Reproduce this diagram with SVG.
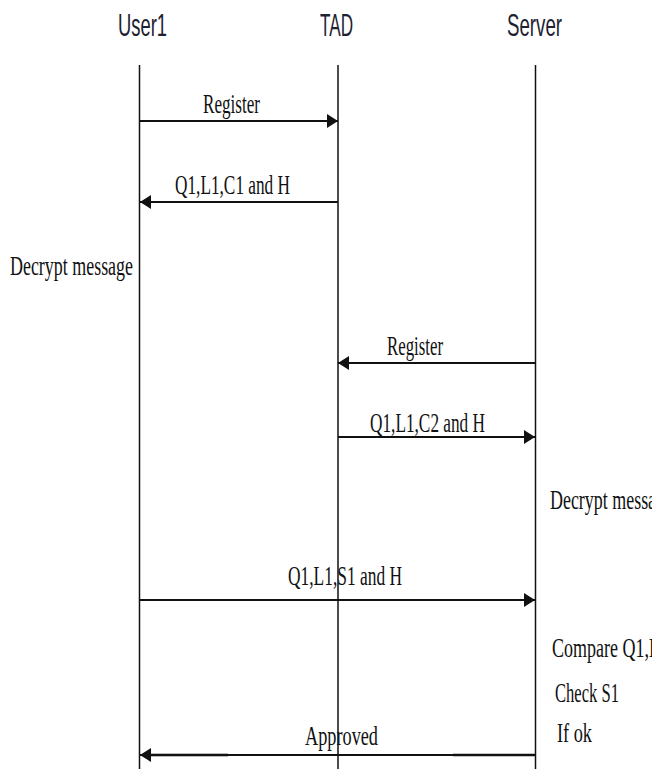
<svg xmlns="http://www.w3.org/2000/svg" width="652" height="769" viewBox="0 0 652 769">
<style>
.hdr{font-family:"Liberation Sans","Open Sans",sans-serif;font-size:32px;fill:#1e2230}
.lbl{font-family:"Liberation Serif","Times New Roman",serif;font-size:28px;fill:#111}
.life{stroke:#111;stroke-width:1.5;fill:none}
.msg{stroke:#111;stroke-width:2;fill:none}
</style>
<defs>
<marker id="ah" viewBox="0 0 11 14" refX="11" refY="7" markerWidth="11" markerHeight="14" markerUnits="userSpaceOnUse" orient="auto">
<path d="M0,0 L11,7 L0,14 Z" fill="#111"/>
</marker>
</defs>
<rect width="652" height="769" fill="#fff"/>
<g id="user1">
<text class="hdr" x="118" y="36" textLength="49" lengthAdjust="spacingAndGlyphs">User1</text>
<line class="life" x1="139.5" y1="65" x2="139.5" y2="769"/>
<text class="lbl" x="10" y="275" textLength="123" lengthAdjust="spacingAndGlyphs">Decrypt message</text>
</g>
<g id="tad">
<text class="hdr" x="320" y="36" textLength="33" lengthAdjust="spacingAndGlyphs">TAD</text>
<line class="life" x1="338" y1="65" x2="338" y2="769"/>
</g>
<g id="server">
<text class="hdr" x="507" y="36" textLength="55" lengthAdjust="spacingAndGlyphs">Server</text>
<line class="life" x1="535.5" y1="65" x2="535.5" y2="769"/>
<text class="lbl" x="550" y="509" textLength="123" lengthAdjust="spacingAndGlyphs">Decrypt message</text>
<text class="lbl" x="552" y="657" textLength="117" lengthAdjust="spacingAndGlyphs">Compare Q1,L1</text>
<text class="lbl" x="555" y="702" textLength="64" lengthAdjust="spacingAndGlyphs">Check S1</text>
<text class="lbl" x="557" y="742" textLength="35" lengthAdjust="spacingAndGlyphs">If ok</text>
</g>
<g id="connectors">
<line class="msg" x1="140" y1="121" x2="338" y2="121" marker-end="url(#ah)"/>
<text class="lbl" x="203" y="113" textLength="57" lengthAdjust="spacingAndGlyphs">Register</text>
<line class="msg" x1="338" y1="202" x2="140" y2="202" marker-end="url(#ah)"/>
<text class="lbl" x="175" y="194" textLength="115" lengthAdjust="spacingAndGlyphs">Q1,L1,C1 and H</text>
<line class="msg" x1="535" y1="363" x2="338" y2="363" marker-end="url(#ah)"/>
<text class="lbl" x="387" y="355" textLength="56" lengthAdjust="spacingAndGlyphs">Register</text>
<line class="msg" x1="338" y1="437" x2="535" y2="437" marker-end="url(#ah)"/>
<text class="lbl" x="370" y="432" textLength="115" lengthAdjust="spacingAndGlyphs">Q1,L1,C2 and H</text>
<line class="msg" x1="140" y1="600" x2="535" y2="600" marker-end="url(#ah)"/>
<text class="lbl" x="288" y="585" textLength="114" lengthAdjust="spacingAndGlyphs">Q1,L1,S1 and H</text>
<line x1="453" y1="755" x2="535" y2="755" stroke="#888" stroke-width="3"/>
<line x1="145" y1="755" x2="228" y2="755" stroke="#777" stroke-width="3"/>
<line class="msg" x1="535" y1="755" x2="140" y2="755" marker-end="url(#ah)"/>
<text class="lbl" x="305" y="745" textLength="73" lengthAdjust="spacingAndGlyphs">Approved</text>
</g>
</svg>
